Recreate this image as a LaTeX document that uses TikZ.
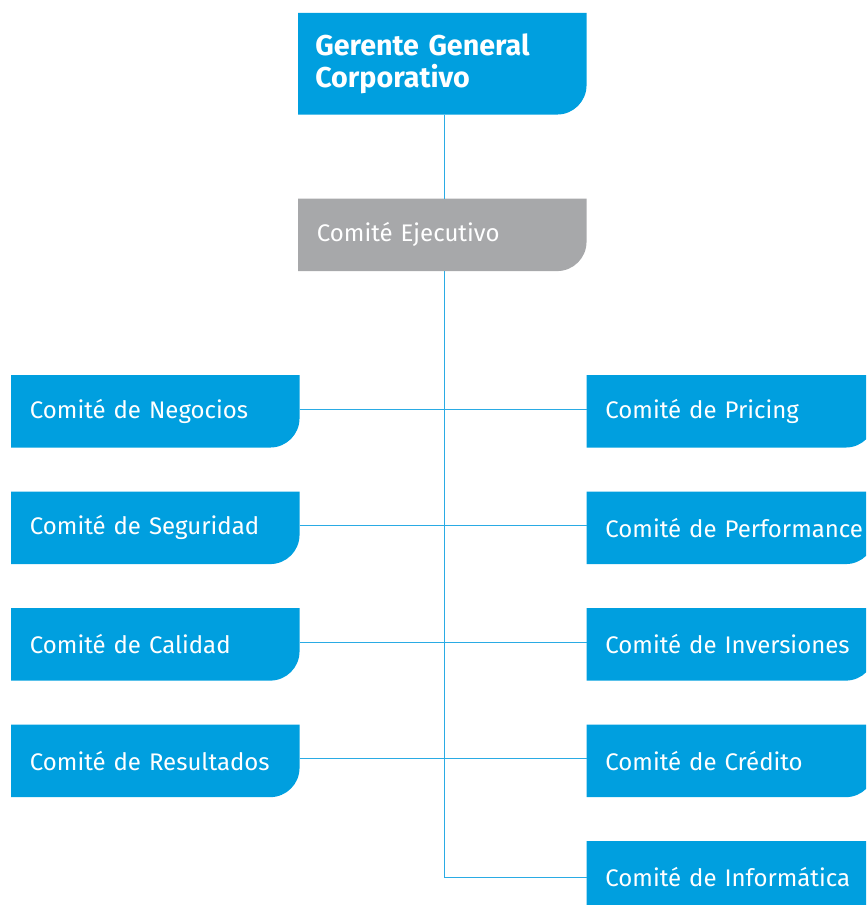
\documentclass[tikz,border=0pt]{standalone}
\usepackage{fontspec}
\setmainfont{Fira Sans}
\usepackage{tikz}
\usetikzlibrary{positioning,backgrounds}

\definecolor{corpblue}{HTML}{009FDF}
\definecolor{corpgray}{HTML}{A7A8AA}
\definecolor{linkblue}{HTML}{2AABE4}

\begin{document}
\begin{tikzpicture}[node distance=33pt and 215.25pt,
  cbox/.style={rectangle, text=white, anchor=north west, inner xsep=14pt, inner ysep=0pt,
    text width=188pt, minimum height=54pt, align=left},
  comite/.style={cbox, font=\fontsize{18}{22}\selectfont,
    execute at begin node={\hbox to 0pt\bgroup}, execute at end node={\hss\egroup}},
  link/.style={linkblue, line width=0.9pt}]

% page frame
\useasboundingbox (0,0) rectangle (649.5pt,-678.75pt);
\clip (0,0) rectangle (649.5pt,-678.75pt);

% Nodes
\node[cbox, minimum height=75.75pt, inner xsep=12.75pt, text width=190.5pt,
  font=\fontsize{21.5}{23.5}\selectfont\bfseries] (gg) at (223.5pt,-9.75pt) {Gerente General\\Corporativo};
\node[comite, below=63pt of gg] (ej) {Comité Ejecutivo};

\node[comite] (neg) at (8.25pt,-281.25pt) {Comité de Negocios};
\node[comite, below=of neg] (seg) {Comité de Seguridad};
\node[comite, below=of seg] (cal) {Comité de Calidad};
\node[comite, below=of cal] (res) {Comité de Resultados};

\node[comite, right=of neg] (pri) {Comité de Pricing};
\node[comite, below=of pri] (per) {Comité de Performance};
\node[comite, below=of per] (inv) {Comité de Inversiones};
\node[comite, below=of inv] (cre) {Comité de Crédito};
\node[comite, below=of cre] (inf) {Comité de Informática};

% box shapes, round bottom right corner only
\begin{scope}[on background layer]
\clip (0,0) rectangle (649.5pt,-678.75pt);
\foreach \n/\c in {gg/corpblue, ej/corpgray, neg/corpblue, seg/corpblue, cal/corpblue, res/corpblue,
                   pri/corpblue, per/corpblue, inv/corpblue, cre/corpblue, inf/corpblue}
  \fill[\c] (\n.north west) -- (\n.north east) -- ([yshift=22pt]\n.south east)
    arc[start angle=0, end angle=-90, radius=22pt] -- (\n.south west) -- cycle;
\end{scope}

% Lines
\draw[link] ([xshift=1.5pt]gg.south) -- ([xshift=1.5pt]ej.north);
\draw[link] ([xshift=1.5pt]ej.south) |- (inf.west);
\foreach \a/\b in {neg/pri, seg/per, cal/inv, res/cre}
  \draw[link] ([yshift=1.5pt]\a.east) -- ([yshift=1.5pt]\b.west);

\end{tikzpicture}
\end{document}
